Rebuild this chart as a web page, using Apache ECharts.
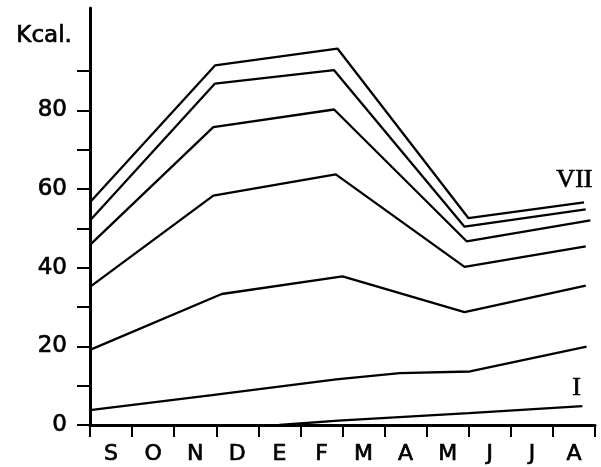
<!DOCTYPE html>
<html>
<head>
<meta charset="utf-8">
<script src="https://cdn.jsdelivr.net/npm/echarts@6/dist/echarts.min.js"></script>
<style>
  html, body { margin: 0; padding: 0; background: #fff; }
  #chart { width: 601px; height: 467px; }
</style>
</head>
<body>
<div id="chart"></div>
<script>
// Month categories (Sept → Aug)
const months = ['S', 'O', 'N', 'D', 'E', 'F', 'M', 'A', 'M', 'J', 'J', 'A'];
// Y-axis ticks and labels
const yTickValues = [0, 10, 20, 30, 40, 50, 60, 70, 80, 90];
const yLabelValues = [0, 20, 40, 60, 80];
// Curves, [month position, Kcal] (month position 0 = start of September)
const curveI   = [[4.5, 0], [5.9, 1.1], [9.0, 3.0], [11.7, 4.8]];
const curveII  = [[0, 3.8], [2.9, 7.6], [5.85, 11.6], [7.36, 13.2], [9.03, 13.6], [11.8, 19.9]];
const curveIII = [[0, 19.1], [3.13, 33.3], [6.0, 37.8], [8.9, 28.7], [11.78, 35.4]];
const curveIV  = [[0, 35.1], [2.93, 58.3], [5.84, 63.7], [8.9, 40.2], [11.78, 45.4]];
const curveV   = [[0, 45.8], [2.93, 75.7], [5.8, 80.2], [8.95, 46.7], [11.89, 52.0]];
const curveVI  = [[0, 52.0], [2.97, 86.8], [5.8, 90.2], [8.9, 50.4], [11.78, 54.8]];
const curveVII = [[0, 56.6], [2.97, 91.4], [5.88, 95.7], [8.99, 52.6], [11.74, 56.6]];

const curves = [curveI, curveII, curveIII, curveIV, curveV, curveVI, curveVII];

const chart = echarts.init(document.getElementById('chart'), null, { renderer: 'canvas' });

const textHeavy = { textBorderColor: '#000', textBorderWidth: 0.7 };
const graphicHeavy = { stroke: '#000', lineWidth: 0.7 };

const option = {
  animation: false,
  backgroundColor: '#ffffff',
  grid: { left: 90, right: 6, top: 8, bottom: 42, containLabel: false },
  xAxis: [
    {
      type: 'category',
      data: months,
      boundaryGap: true,
      axisLine: { show: true, onZero: false, lineStyle: { color: '#000', width: 3 } },
      axisTick: { show: true, length: 12, lineStyle: { color: '#000', width: 2 } },
      axisLabel: Object.assign({
        color: '#000', fontFamily: 'DejaVu Sans', fontSize: 22, margin: 18
      }, textHeavy),
      splitLine: { show: false }
    },
    {
      type: 'value',
      min: 0, max: 12,
      show: false
    }
  ],
  yAxis: {
    type: 'value',
    min: 0, max: 106,
    axisLine: { show: true, onZero: false, lineStyle: { color: '#000', width: 3 } },
    axisTick: { show: true, length: 13, customValues: yTickValues, lineStyle: { color: '#000', width: 2 } },
    axisLabel: Object.assign({
      customValues: yLabelValues,
      color: '#000', fontFamily: 'DejaVu Sans', fontSize: 23, margin: 23
    }, textHeavy),
    splitLine: { show: false }
  },
  graphic: [
    { type: 'text', left: 16, top: 24,
      style: Object.assign({ text: 'Kcal.', fill: '#000', font: '23px "DejaVu Sans"' }, graphicHeavy) },
    { type: 'text', left: 556, top: 167,
      style: Object.assign({ text: 'VII', fill: '#000', font: '26px "Liberation Serif"' }, graphicHeavy) },
    { type: 'text', left: 572, top: 375,
      style: Object.assign({ text: 'I', fill: '#000', font: '26px "Liberation Serif"' }, graphicHeavy) }
  ],
  series: curves.map(function (d) {
    return {
      type: 'line',
      xAxisIndex: 1,
      data: d,
      symbol: 'none',
      clip: false,
      lineStyle: { color: '#000', width: 2.3 }
    };
  })
};

chart.setOption(option);
</script>
</body>
</html>
